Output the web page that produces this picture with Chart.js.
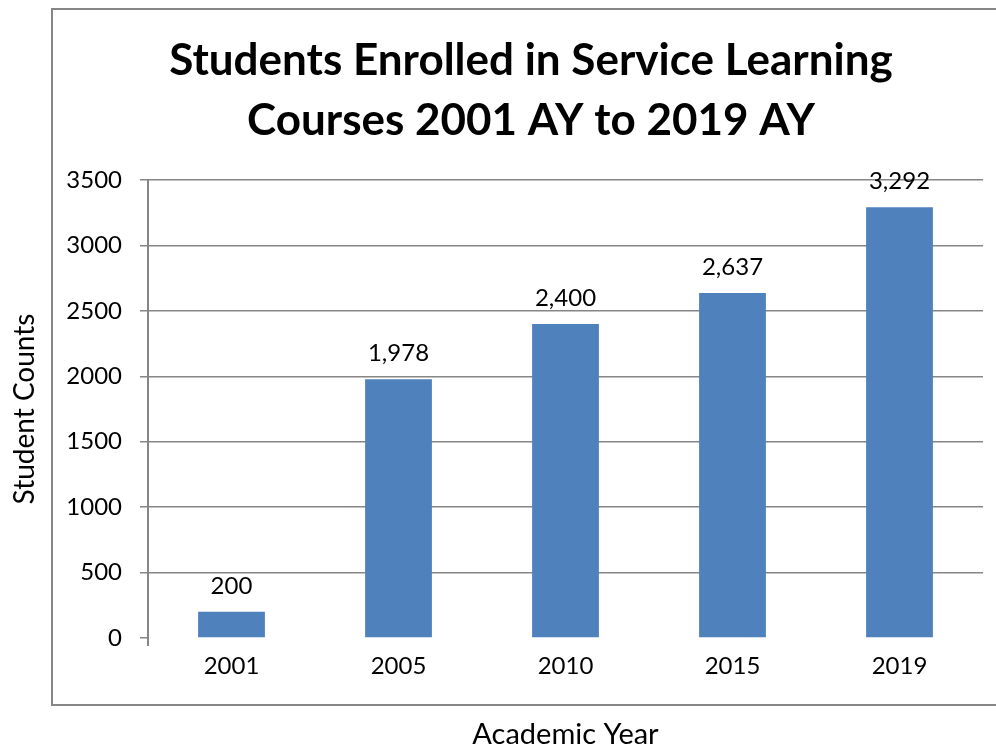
<!DOCTYPE html>
<html>
<head>
<meta charset="utf-8">
<script src="https://cdn.jsdelivr.net/npm/chart.js@4/dist/chart.umd.min.js"></script>
<style>
html,body{margin:0;padding:0;background:#fff;}
#wrap{width:996px;height:749px;position:relative;}
</style>
</head>
<body>
<div id="wrap"><canvas id="c" width="996" height="749"></canvas></div>
<script>
const categories = ["2001", "2005", "2010", "2015", "2019"];
const studentCounts = [200, 1978, 2400, 2637, 3292];
const yTicks = [0, 500, 1000, 1500, 2000, 2500, 3000, 3500];
const titleLines = ["Students Enrolled in Service Learning", "Courses 2001 AY to 2019 AY"];
const xTitle = "Academic Year";
const yTitle = "Student Counts";

const FONT = "Lato, 'Open Sans', sans-serif";
const GRID = "#868686";

const framePlugin = {
  id: 'frame',
  beforeDraw(chart) {
    const ctx = chart.ctx;
    ctx.save();
    ctx.fillStyle = '#fff';
    ctx.fillRect(0, 0, chart.width, chart.height);
    ctx.strokeStyle = '#878787';
    ctx.lineWidth = 2;
    ctx.strokeRect(52, 9, chart.width, 696);
    ctx.fillStyle = '#000';
    ctx.font = "bold 44px " + FONT;
    ctx.textAlign = 'center';
    ctx.textBaseline = 'middle';
    ctx.fillText(titleLines[0], 531, 61);
    ctx.fillText(titleLines[1], 531, 121);
    ctx.restore();
  }
};

const labelPlugin = {
  id: 'barLabels',
  afterDatasetsDraw(chart) {
    const ctx = chart.ctx;
    const meta = chart.getDatasetMeta(0);
    ctx.save();
    ctx.font = "24px " + FONT;
    ctx.fillStyle = '#000';
    ctx.textAlign = 'center';
    ctx.textBaseline = 'middle';
    meta.data.forEach((bar, i) => {
      ctx.fillText(studentCounts[i].toLocaleString('en-US'), bar.x, bar.y - 26);
    });
    ctx.restore();
  }
};

new Chart(document.getElementById('c'), {
  type: 'bar',
  data: {
    labels: categories,
    datasets: [{
      data: studentCounts,
      backgroundColor: '#4F81BD',
      borderWidth: 0,
      categoryPercentage: 1.0,
      barPercentage: 0.4
    }]
  },
  options: {
    responsive: false,
    animation: false,
    layout: { padding: { top: 180, right: 13, left: 0, bottom: 0 } },
    plugins: { legend: { display: false }, title: { display: false }, tooltip: { enabled: false } },
    scales: {
      x: {
        afterFit(s) { s.height = 111; },
        border: { display: false },
        grid: {
          offset: true,
          drawOnChartArea: false,
          drawTicks: true,
          tickLength: 8,
          lineWidth: 2,
          color: (c) => c.index === 0 ? GRID : 'rgba(0,0,0,0)',
          tickColor: (c) => c.index === 0 ? GRID : 'rgba(0,0,0,0)'
        },
        ticks: { color: '#000', font: { family: FONT, size: 24 }, padding: 6, maxRotation: 0 },
        title: { display: true, text: xTitle, color: '#000', font: { family: FONT, size: 29, lineHeight: 1.0 }, padding: { top: 0, bottom: 0 } }
      },
      y: {
        min: 0, max: 3500,
        afterFit(s) { s.width = 148; },
        afterBuildTicks(s) { s.ticks = yTicks.map(v => ({ value: v })); },
        border: { display: true, color: GRID, width: 2 },
        grid: {
          color: (c) => (c.tick && c.tick.value === 0) ? 'rgba(0,0,0,0)' : GRID,
          tickColor: GRID,
          lineWidth: 1.5,
          tickLength: 8
        },
        ticks: { color: '#000', font: { family: FONT, size: 24 }, padding: 18, callback: (v) => String(v) },
        title: { display: true, text: yTitle, color: '#000', font: { family: FONT, size: 28 }, padding: { top: 8, bottom: 0 } }
      }
    }
  },
  plugins: [framePlugin, labelPlugin]
});
</script>
</body>
</html>
